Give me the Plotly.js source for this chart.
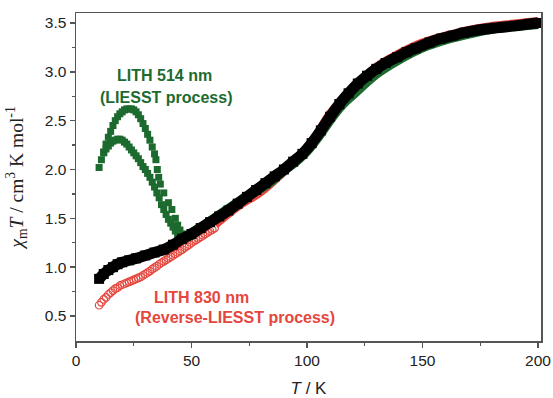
<!DOCTYPE html>
<html>
<head>
<meta charset="utf-8">
<script src="https://cdn.plot.ly/plotly-3.0.1.min.js"></script>
<style>html,body{margin:0;padding:0;background:#fff;}#chart{width:553px;height:398px;}</style>
</head>
<body>
<div id="chart"></div>
<script>
// Black: thermal curve (dark)
var blackT = [10,12,14,16,18,20,23,26,30,34,38,42,46,50,54,58,62,66,70,74,78,82,86,90,94,98,102,106,110,114,118,122,126,130,134,139,143,147,153,158,163,168,175,182,190,196,200];
var blackV = [0.88,0.93,0.97,1.0,1.03,1.05,1.07,1.09,1.12,1.15,1.18,1.23,1.29,1.34,1.40,1.46,1.52,1.58,1.65,1.72,1.79,1.86,1.93,2.0,2.08,2.16,2.27,2.40,2.54,2.67,2.78,2.88,2.96,3.03,3.09,3.15,3.20,3.24,3.30,3.34,3.37,3.40,3.43,3.45,3.47,3.49,3.50];

// Green: LITH 514 nm, warming (upper) and cooling (lower) branches
var greenUpT = [10,11,12,13,14,15,16,17,18,19,20,21,22,23,24,25,26,27,28,29,30,31,32,33,34,34.6,35.2,35.8,36.5,38,40,41.5,43,44,45,46,47,48,49,50];
var greenUpV = [2.02,2.10,2.18,2.26,2.33,2.39,2.45,2.50,2.54,2.57,2.59,2.61,2.62,2.62,2.62,2.61,2.59,2.56,2.52,2.47,2.42,2.36,2.30,2.23,2.16,2.10,2.00,1.92,1.85,1.76,1.66,1.59,1.50,1.43,1.38,1.34,1.32,1.31,1.31,1.32];
var greenLoT = [12,13,14,15,16,17,18,19,20,21,22,23,24,25,26,27,28,29,30,31,32,33,34,35,36,37,38,39,40,41,42,43,44,45,46,47];
var greenLoV = [2.17,2.21,2.24,2.27,2.29,2.30,2.31,2.31,2.30,2.28,2.26,2.23,2.20,2.17,2.14,2.11,2.07,2.03,2.00,1.96,1.92,1.87,1.82,1.76,1.71,1.64,1.59,1.54,1.49,1.45,1.41,1.37,1.34,1.32,1.31,1.31];
var greenTailT = [50,55,60,65,70,75,80,85,90,95,100,105,110,115,120,130,140,150,160,170,180,190,200];
var greenTailV = [1.35,1.42,1.50,1.58,1.66,1.74,1.81,1.89,1.99,2.08,2.19,2.34,2.51,2.66,2.77,2.98,3.13,3.25,3.33,3.39,3.44,3.465,3.49];

// Red: LITH 830 nm (reverse-LIESST)
var redT = [10,11,12,13,14,15,16,17,18,19,20,21,22,23,24,25,26,27,28,29,30,31,32,33,34,35,36,37,38,39,40,41,42,43,44,45,46,47,48,49,50,51,52,53,54,55,56,57,58,59,60];
var redV = [0.61,0.64,0.67,0.69,0.72,0.74,0.76,0.78,0.79,0.81,0.82,0.83,0.84,0.85,0.86,0.87,0.88,0.89,0.90,0.915,0.93,0.945,0.96,0.98,0.995,1.01,1.03,1.045,1.06,1.075,1.09,1.105,1.12,1.135,1.15,1.165,1.18,1.20,1.215,1.23,1.25,1.265,1.28,1.295,1.31,1.325,1.34,1.355,1.37,1.385,1.40];
var redTailT = [60,70,80,90,100,105,110,115,120,130,140,150,160,170,180,190,200];
var redTailV = [1.44,1.63,1.78,1.99,2.21,2.37,2.56,2.70,2.81,3.04,3.18,3.29,3.36,3.42,3.46,3.485,3.51];

var xTicks = [0,50,100,150,200];
var yTicks = [0.5,1.0,1.5,2.0,2.5,3.0,3.5];
var yTickText = ['0.5','1.0','1.5','2.0','2.5','3.0','3.5'];

var GREEN = '#1d6a2f';
var RED = '#e5463d';

var traces = [
  {x: redTailT, y: redTailV, mode: 'lines', line: {color: RED, width: 10, shape: 'spline'}, hoverinfo: 'skip'},
  {x: redT, y: redV, mode: 'markers', marker: {symbol: 'circle-open', size: 7.5, color: RED, line: {width: 1.2, color: RED}}},
  {x: greenTailT, y: greenTailV, mode: 'lines', line: {color: GREEN, width: 10, shape: 'spline'}, hoverinfo: 'skip'},
  {x: greenUpT, y: greenUpV, mode: 'markers', marker: {symbol: 'square', size: 7, color: GREEN}},
  {x: greenLoT, y: greenLoV, mode: 'markers', marker: {symbol: 'square', size: 7, color: GREEN}},
  {x: blackT, y: blackV, mode: 'lines+markers', line: {color: '#000', width: 11, shape: 'spline'}, marker: {symbol: 'square', size: 10, color: '#000'}}
];

var axisCommon = {
  showgrid: false, zeroline: false, showline: true, linecolor: '#555', linewidth: 1.5,
  mirror: true, ticks: 'outside', ticklen: 5, tickwidth: 1.5, tickcolor: '#555',
  tickfont: {family: 'Liberation Sans, Arial, sans-serif', size: 15.5, color: '#222'}
};

var layout = {
  width: 553, height: 398,
  margin: {l: 76, r: 12, t: 13, b: 57},
  paper_bgcolor: '#fff', plot_bgcolor: '#fff',
  showlegend: false,
  xaxis: Object.assign({}, axisCommon, {
    range: [0, 201.3], tickvals: xTicks, ticktext: xTicks.map(String),
    minor: {tickvals: [25,75,125,175], ticks: 'outside', ticklen: 3, tickwidth: 1.2, tickcolor: '#555'},
    title: {text: '<i>T</i> / K', font: {family: 'Liberation Sans, Arial, sans-serif', size: 17, color: '#222'}, standoff: 14}
  }),
  yaxis: Object.assign({}, axisCommon, {
    range: [0.244, 3.602], tickvals: yTicks, ticktext: yTickText,
    minor: {tickvals: [0.75,1.25,1.75,2.25,2.75,3.25], ticks: 'outside', ticklen: 3, tickwidth: 1.2, tickcolor: '#555'},
    title: {text: '<i>χ</i><sub>m</sub><i>T</i> / cm<sup>3</sup> K mol<sup>-1</sup>', font: {family: 'Liberation Serif, Times New Roman, serif', size: 19.5, color: '#222'}, standoff: 16}
  }),
  annotations: [
    {x: 164, y: 76, text: '<b>LITH 514 nm</b>', color: GREEN},
    {x: 166, y: 97, text: '<b>(LIESST process)</b>', color: GREEN},
    {x: 201, y: 297, text: '<b>LITH 830 nm</b>', color: RED},
    {x: 235, y: 317, text: '<b>(Reverse-LIESST process)</b>', color: RED}
  ]
};
// convert pixel positions of the labels to paper coordinates
var pl = 76, pr = 553 - 12, pt = 13, pb = 398 - 57;
layout.annotations = layout.annotations.map(function (a) {
  return {
    xref: 'paper', yref: 'paper', xanchor: 'center', yanchor: 'middle', showarrow: false,
    x: (a.x - pl) / (pr - pl), y: (pb - a.y) / (pb - pt), text: a.text,
    font: {family: 'Liberation Sans, Arial, sans-serif', size: 16, color: a.color}
  };
});

Plotly.newPlot('chart', traces, layout, {displayModeBar: false, staticPlot: true});
</script>
</body>
</html>
